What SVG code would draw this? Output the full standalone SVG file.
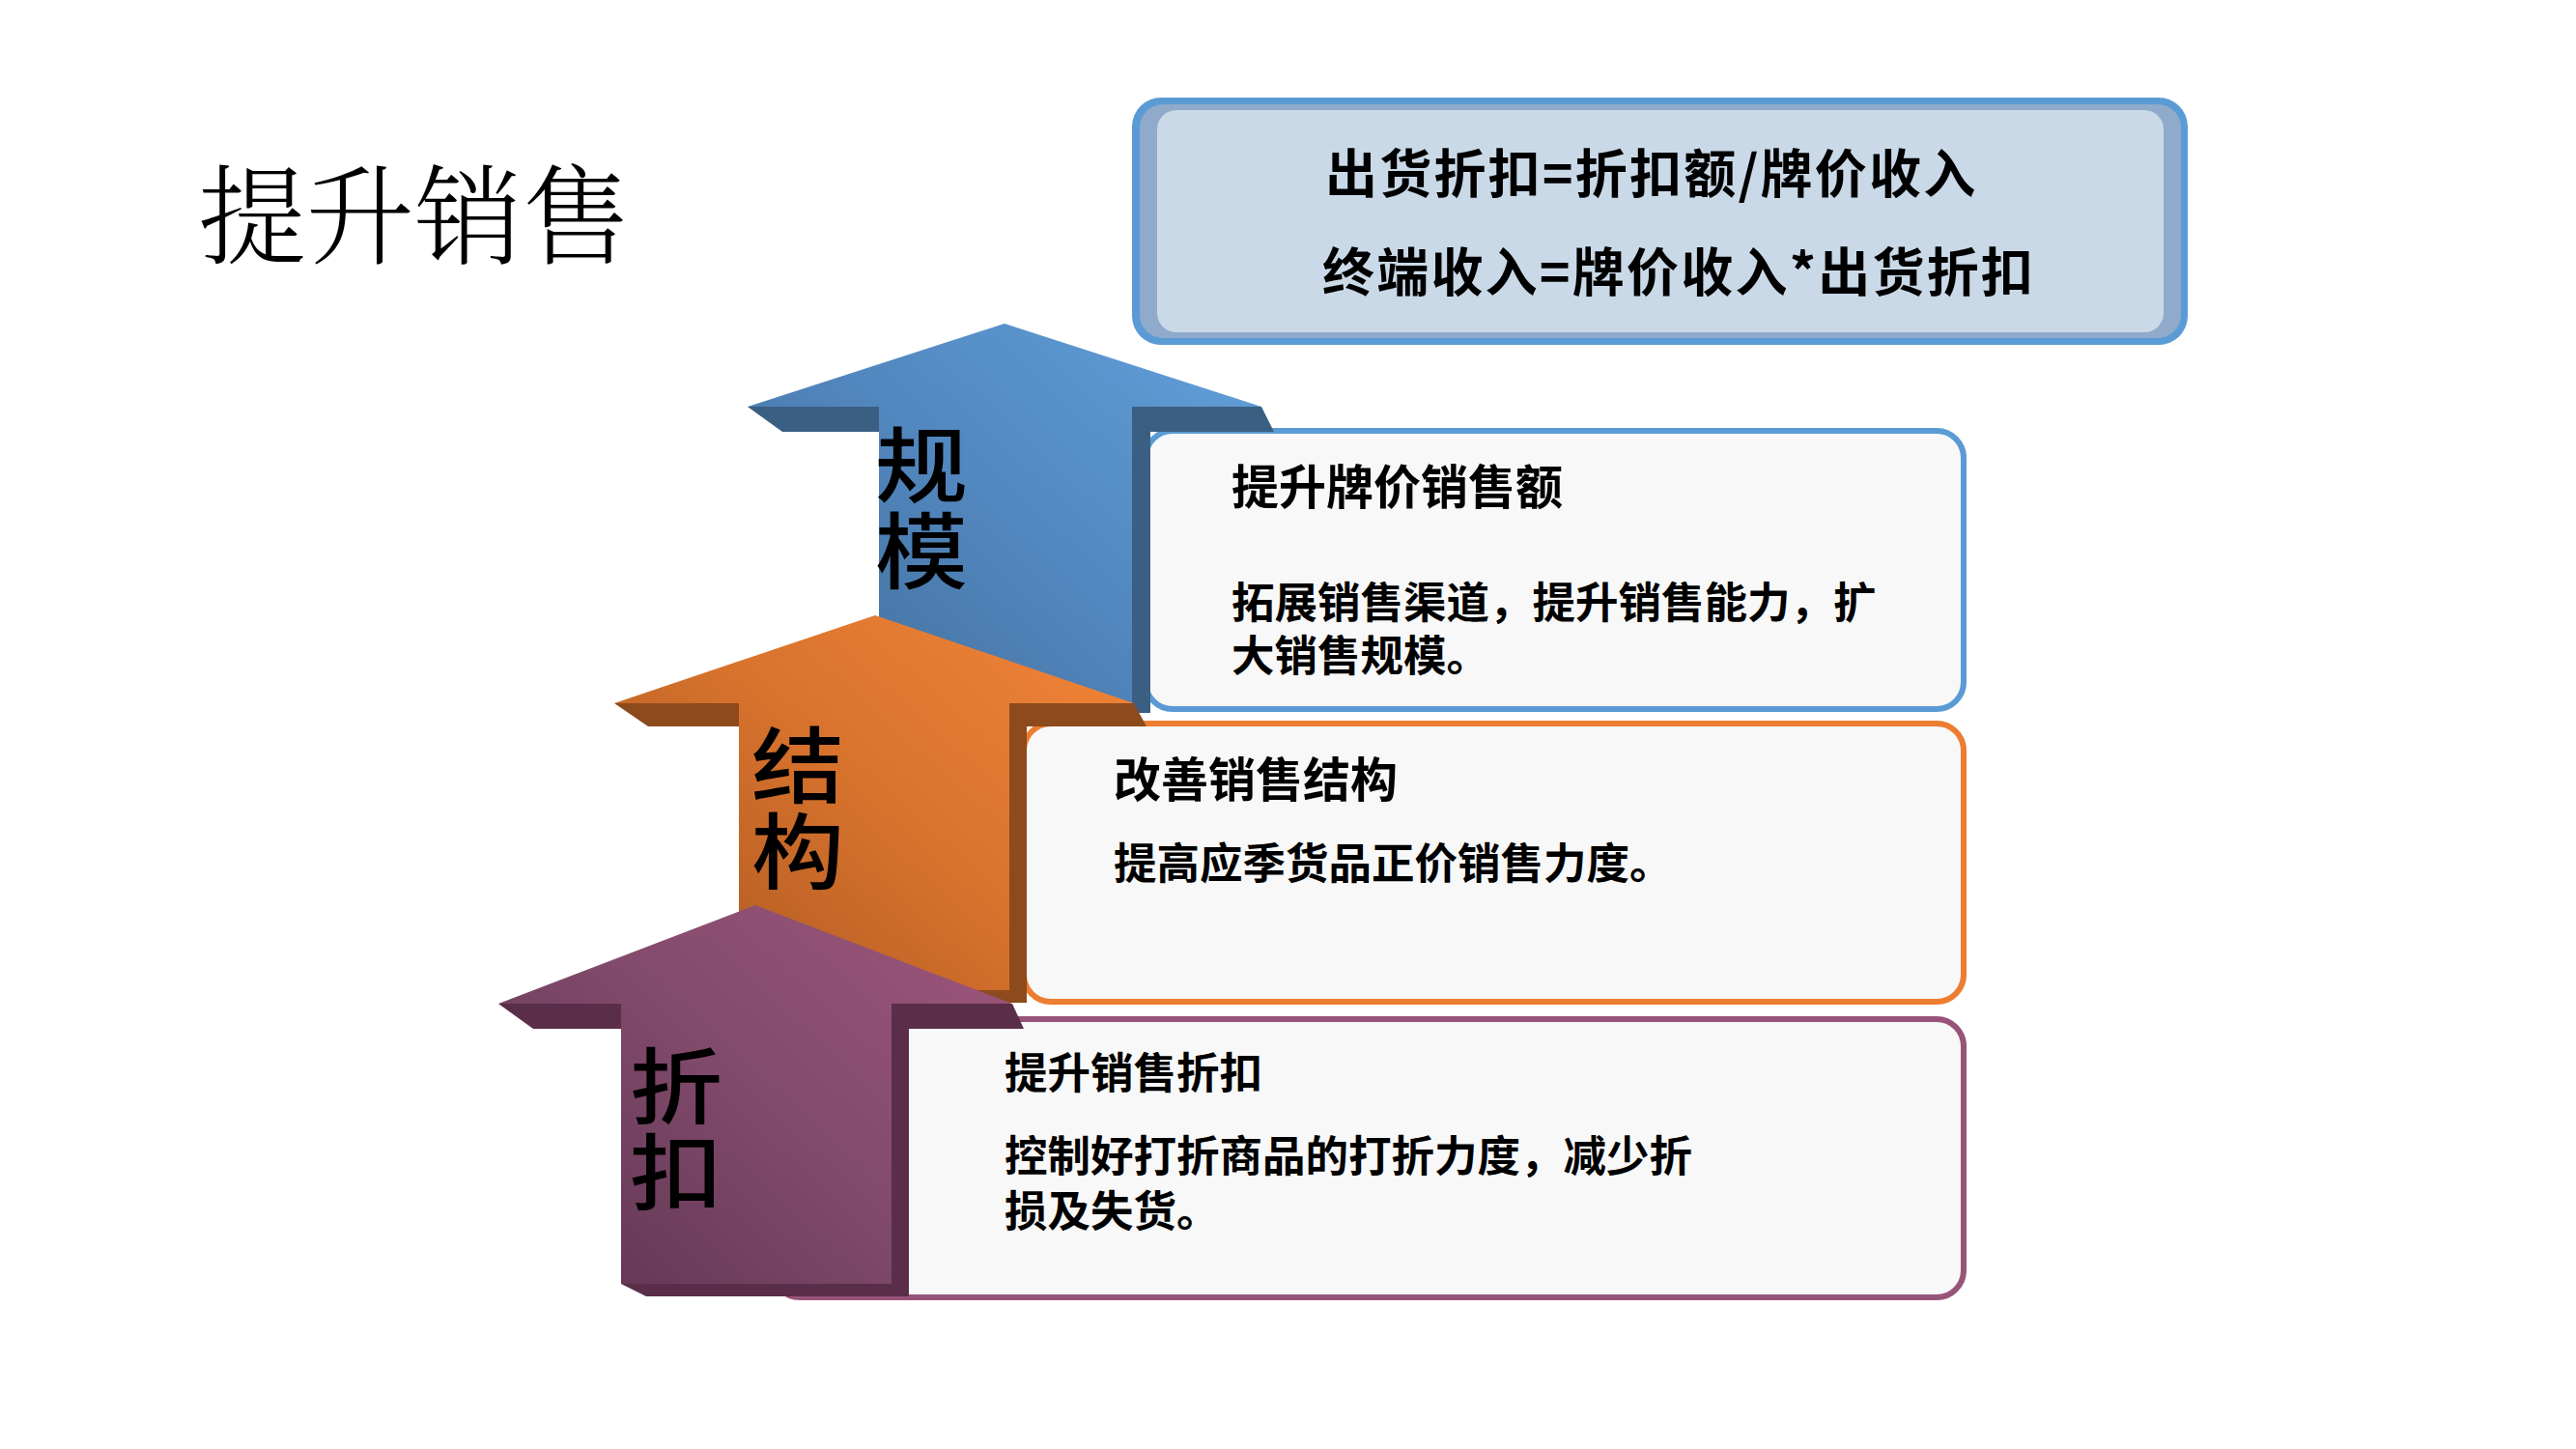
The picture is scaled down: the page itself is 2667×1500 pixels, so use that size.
<svg xmlns="http://www.w3.org/2000/svg" width="2667" height="1500" viewBox="0 0 2667 1500">
<defs>
<style>
.t{font-family:"Noto Sans CJK SC","Noto Sans",sans-serif;fill:#000}
.title{font-family:"Noto Serif CJK SC","Noto Sans CJK SC",serif;font-size:112px;font-weight:300;fill:#000}
.f{font-size:54px;font-weight:700;letter-spacing:2.2px}
.h{font-size:49px;font-weight:700}
.b{font-size:44.5px;font-weight:700}
.lab{font-size:96px;font-weight:500;writing-mode:vertical-rl;letter-spacing:3px}
.box{fill:#f8f8f8;stroke-width:6}
</style>
<linearGradient id="gB" x1="0" y1="1" x2="1" y2="0.2">
<stop offset="0" stop-color="#416c96"/><stop offset="0.55" stop-color="#5287bf"/><stop offset="1" stop-color="#5f9cd6"/>
</linearGradient>
<linearGradient id="gO" x1="0" y1="1" x2="1" y2="0.2">
<stop offset="0" stop-color="#a65520"/><stop offset="0.55" stop-color="#d7722d"/><stop offset="1" stop-color="#ee8236"/>
</linearGradient>
<linearGradient id="gP" x1="0" y1="1" x2="1" y2="0.2">
<stop offset="0" stop-color="#5c3350"/><stop offset="0.55" stop-color="#814a6b"/><stop offset="1" stop-color="#9a5479"/>
</linearGradient>
</defs>
<rect width="2667" height="1500" fill="#ffffff"/>

<g id="title"><text class="title" x="205" y="265">提升销售</text></g>

<g id="formula">
<rect x="1172" y="101" width="1093" height="256" rx="30" fill="#5b9bd5"/>
<rect x="1180" y="108" width="1078" height="242" rx="24" fill="#8faacb"/>
<rect x="1198" y="114" width="1042" height="230" rx="20" fill="#cad9e7"/>
<text class="t f" x="1372" y="200">出货折扣=折扣额/牌价收入</text>
<text class="t f" x="1369" y="302">终端收入=牌价收入*出货折扣</text>
</g>

<g id="box-blue">
<rect class="box" x="1186" y="446" width="847" height="288" rx="28" stroke="#5b9bd5"/>
<text class="t h" x="1275" y="522">提升牌价销售额</text>
<text class="t b" x="1275" y="640">拓展销售渠道，提升销售能力，扩</text>
<text class="t b" x="1275" y="695">大销售规模。</text>
</g>

<g id="arrow-blue">
<polygon points="1040,335 1306,421 1172,421 1172,727 910,727 910,421 774,421" fill="url(#gB)"/>
<polygon points="774,421 910,421 910,447 810,447" fill="#3b5f83"/>
<polygon points="1172,421 1306,421 1319,447 1191,447 1191,738 935,738 910,727 1172,727" fill="#3b5f83"/>
<text class="t lab" transform="scale(1,0.9)" x="954" y="487">规模</text>
</g>

<g id="box-orange">
<rect class="box" x="1060" y="749" width="973" height="288" rx="28" stroke="#ed7d31"/>
<text class="t h" x="1153" y="825">改善销售结构</text>
<text class="t b" x="1153" y="910">提高应季货品正价销售力度。</text>
</g>

<g id="arrow-orange">
<polygon points="906,637 1174,728 1045,728 1045,1025 765,1025 765,728 636,728" fill="url(#gO)"/>
<polygon points="636,728 765,728 765,752 671,752" fill="#8d4a1d"/>
<polygon points="1045,728 1174,728 1187,752 1063,752 1063,1038 790,1038 765,1025 1045,1025" fill="#8d4a1d"/>
<text class="t lab" transform="scale(1,0.9)" x="826" y="832">结构</text>
</g>

<g id="box-purple">
<rect class="box" x="800" y="1055" width="1233" height="288" rx="28" stroke="#985478"/>
<text class="t b" x="1040" y="1127">提升销售折扣</text>
<text class="t b" x="1040" y="1213">控制好打折商品的打折力度，减少折</text>
<text class="t b" x="1040" y="1270">损及失货。</text>
</g>

<g id="arrow-purple">
<polygon points="782,937 1048,1039 923,1039 923,1329 643,1329 643,1039 516,1039" fill="url(#gP)"/>
<polygon points="516,1039 643,1039 643,1065 552,1065" fill="#5a2e48"/>
<polygon points="923,1039 1048,1039 1060,1065 941,1065 941,1342 669,1342 643,1329 923,1329" fill="#5a2e48"/>
<text class="t lab" transform="scale(1,0.9)" x="700" y="1201">折扣</text>
</g>

<g id="connectors"></g>
</svg>
